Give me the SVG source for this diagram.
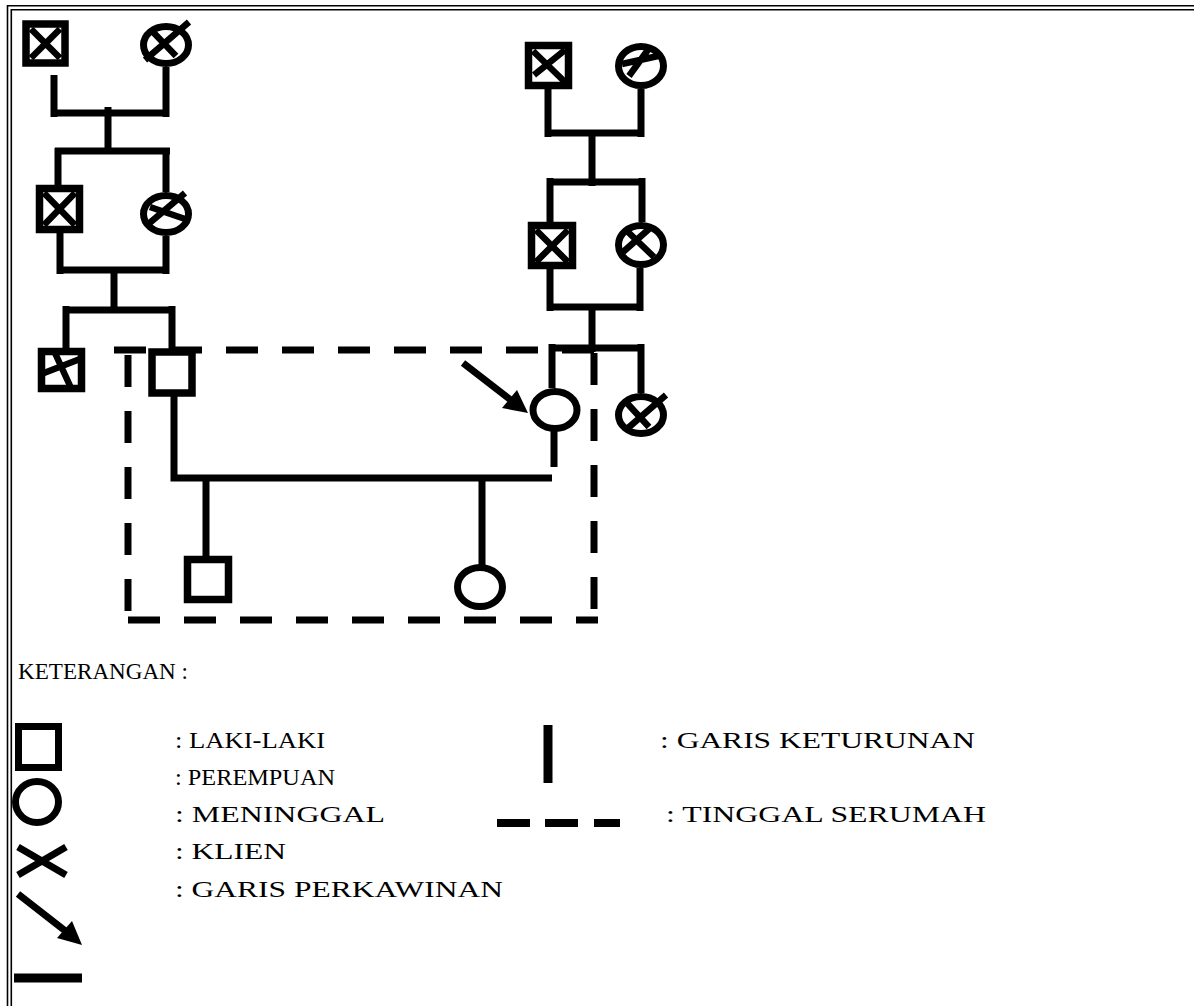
<svg xmlns="http://www.w3.org/2000/svg" width="1194" height="1006" viewBox="0 0 1194 1006">
<style>
.b{stroke:#000;stroke-width:1.6;fill:none}
.ln{stroke:#000;stroke-width:7;fill:none;stroke-linecap:butt}
.sq{stroke:#000;stroke-width:7.5;fill:#fff}
.ci{stroke:#000;stroke-width:7;fill:#fff}
.x{stroke:#000;stroke-width:6.5;fill:none}
.dash{stroke:#000;stroke-width:7;fill:none;stroke-dasharray:32 24}
.t{font-family:"Liberation Serif","Times New Roman",serif;font-size:23px;fill:#000}
</style>
<rect width="1194" height="1006" fill="#fff"/>
<g id="border">
<path class="b" d="M7.5,1006 V5.7 H1194"/>
<path class="b" d="M11.3,1006 V9.7 H1194"/>
</g>
<g id="connectors">
<path class="ln" d="M54,75 V117 M50.5,113 H169.5 M166,67 V117 M108,107 V154 M55,151 H170 M58,148 V187 M166,148 V192"/>
<path class="ln" d="M60,233 V274 M56.5,270 H169.5 M166,236 V274 M114,270 V313 M62.5,310 H175.5 M66,306 V348 M172,306 V350"/>
<path class="ln" d="M548,89 V137 M641,89 V137 M544.5,133 H644.5 M592,133 V186 M546.5,182 H645.5 M550,178 V222 M642,178 V222"/>
<path class="ln" d="M550,269 V311 M640,268 V311 M546.5,307 H643.5 M592,307 V352 M548.5,348 H644.5 M552,344 V388 M641,344 V393"/>
<path class="ln" d="M554,424 V467 M174,396 V481.5 M170.5,478 H552 M206,478 V557 M482,478 V565"/>
<path class="ln" d="M463,363 L516,404"/>
<polygon points="528,413 502,408 517,390" fill="#000"/>
</g>
<g id="house">
<path class="dash" d="M114,350 H594"/>
<path class="dash" d="M128,355 V612"/>
<path class="dash" d="M128,620 H598"/>
<path class="dash" d="M594,353 V620"/>
</g>
<g id="n-gf1"><rect class="sq" x="26" y="24" width="39" height="39"/><path class="x" d="M31,29 L60,58 M60,29 L31,58"/></g>
<g id="n-gm1"><ellipse class="ci" cx="166" cy="45" rx="22.5" ry="18.5"/><path class="x" d="M145,60 L189,22 M153,32 L176,56"/></g>
<g id="n-f1"><rect class="sq" x="39.5" y="188.5" width="40" height="41"/><path class="x" d="M44,193 L75,225 M75,193 L44,225"/></g>
<g id="n-m1"><ellipse class="ci" cx="166" cy="214" rx="22.5" ry="18.5"/><path class="x" d="M150,207 L188,220 M146,226 L185,193"/></g>
<g id="n-uncle"><rect class="sq" x="41.5" y="351.5" width="40" height="37"/><path class="x" d="M44,373 L80,359 M55,353 L71,388"/></g>
<g id="n-husband"><rect class="sq" x="152" y="352" width="40" height="41"/></g>
<g id="n-gf2"><rect class="sq" x="528.5" y="45.5" width="40" height="40"/><path class="x" d="M533,51 L567,84 M565,50 L534,75"/></g>
<g id="n-gm2"><ellipse class="ci" cx="641" cy="66" rx="22.5" ry="19.5"/><path class="x" d="M622,64 L658,56 M650,47 L629,76"/></g>
<g id="n-f2"><rect class="sq" x="531.5" y="225.5" width="41" height="40"/><path class="x" d="M536,230 L568,262 M568,230 L536,262"/></g>
<g id="n-m2"><ellipse class="ci" cx="641" cy="245" rx="22.5" ry="19.5"/><path class="x" d="M627,231 L654,257 M649,229 L623,252"/></g>
<g id="n-client"><ellipse cx="555" cy="410" rx="22" ry="18.5" fill="#fff" stroke="#000" stroke-width="7"/></g>
<g id="n-aunt"><ellipse class="ci" cx="641" cy="415" rx="22.5" ry="18.5"/><path class="x" d="M626,402 L649,427 M666,395 L628,428"/></g>
<g id="n-son"><rect class="sq" x="187.5" y="559.5" width="41" height="40"/></g>
<g id="n-daughter"><ellipse class="ci" cx="480" cy="587" rx="22.5" ry="19.5"/></g>
<g id="legend">
<text class="t" x="18" y="679" textLength="170" lengthAdjust="spacingAndGlyphs">KETERANGAN :</text>
<rect x="18.5" y="726.5" width="40" height="41" fill="none" stroke="#000" stroke-width="7"/>
<ellipse cx="37" cy="802" rx="21.5" ry="20.5" fill="none" stroke="#000" stroke-width="7"/>
<path d="M18,847 L66,875 M66,847 L18,875" stroke="#000" stroke-width="7" fill="none"/>
<path d="M18,894 L68,933" stroke="#000" stroke-width="7" fill="none"/>
<polygon points="82,945 57,938 72,921" fill="#000"/>
<path d="M14,978 H82" stroke="#000" stroke-width="9" fill="none"/>
<path d="M548,725 V783" stroke="#000" stroke-width="9" fill="none"/>
<path d="M497,823 H530 M545,823 H578 M594,823 H620" stroke="#000" stroke-width="8" fill="none"/>
<text class="t" x="175" y="748" textLength="150" lengthAdjust="spacingAndGlyphs">: LAKI-LAKI</text>
<text class="t" x="175" y="785" textLength="160" lengthAdjust="spacingAndGlyphs">: PEREMPUAN</text>
<text class="t" x="175" y="822" textLength="210" lengthAdjust="spacingAndGlyphs">: MENINGGAL</text>
<text class="t" x="175" y="859" textLength="111" lengthAdjust="spacingAndGlyphs">: KLIEN</text>
<text class="t" x="175" y="897" textLength="328" lengthAdjust="spacingAndGlyphs">: GARIS PERKAWINAN</text>
<text class="t" x="660" y="748" textLength="315" lengthAdjust="spacingAndGlyphs">: GARIS KETURUNAN</text>
<text class="t" x="666" y="822" textLength="320" lengthAdjust="spacingAndGlyphs">: TINGGAL SERUMAH</text>
</g>
</svg>
